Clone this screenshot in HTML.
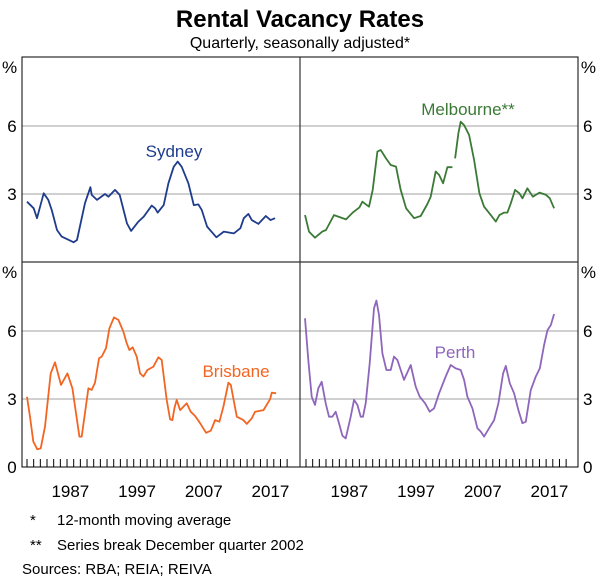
<!DOCTYPE html>
<html><head><meta charset="utf-8"><style>
body{margin:0;background:#fff}
svg{display:block;font-family:"Liberation Sans",Arial,sans-serif}
</style></head><body>
<svg id="chart" width="600" height="578" viewBox="0 0 600 578">
<text x="300" y="27" text-anchor="middle" font-size="24" font-weight="bold">Rental Vacancy Rates</text>
<text x="300" y="48" text-anchor="middle" font-size="16">Quarterly, seasonally adjusted*</text>
<g id="grid"></g>
<g id="ticks"></g>
<g id="series"></g>
<rect x="22" y="57" width="556" height="410" fill="none" stroke="#000" stroke-width="1"/>
<line x1="300" y1="57" x2="300" y2="467" stroke="#333" stroke-width="1.2"/>
<line x1="22" y1="262" x2="578" y2="262" stroke="#333" stroke-width="1.2"/>
<g id="labels" font-size="17"></g>
<text x="174" y="157" text-anchor="middle" font-size="17" fill="#1f3c8c">Sydney</text>
<text x="468" y="115" text-anchor="middle" font-size="17" fill="#3b7a36">Melbourne**</text>
<text x="236" y="377" text-anchor="middle" font-size="17" fill="#f26522">Brisbane</text>
<text x="455" y="358" text-anchor="middle" font-size="17" fill="#8e66bb">Perth</text>
<text x="30" y="525" font-size="15">*</text>
<text x="57" y="525" font-size="15">12-month moving average</text>
<text x="30" y="550" font-size="15">**</text>
<text x="57" y="550" font-size="15">Series break December quarter 2002</text>
<text x="22" y="574" font-size="15">Sources: RBA; REIA; REIVA</text>
</svg>
<script>
const yTicks=[0,3,6];
const xTickLabels=["1987","1997","2007","2017"];
const sydT=[1981,1982,1982.5,1983.5,1984.2,1984.7,1985.5,1986.2,1988,1988.5,1989.7,1990.5,1990.7,1991.5,1992.7,1993.2,1994.2,1994.9,1996,1996.6,1997.7,1998.5,1999.7,2000.2,2000.6,2001.5,2002.2,2003,2003.6,2004.2,2005.2,2006,2006.7,2007.2,2008,2009.4,2010.5,2012,2013,2013.5,2014.2,2014.7,2015.7,2016.8,2017.5,2018.2];
const sydV=[2.66,2.37,1.93,3.03,2.74,2.3,1.41,1.12,0.87,0.97,2.6,3.3,2.96,2.74,3.0,2.88,3.18,2.96,1.7,1.37,1.78,2.0,2.49,2.37,2.18,2.51,3.47,4.2,4.43,4.2,3.47,2.51,2.54,2.29,1.56,1.09,1.34,1.26,1.49,1.93,2.12,1.85,1.68,2.03,1.85,1.93];
const melT=[1980.85,1981.45,1982.35,1983.45,1984,1985.2,1987,1988,1989,1989.45,1990.45,1991,1991.7,1992.2,1993,1993.7,1994.5,1995.2,1996,1997.2,1998.2,1999.2,1999.7,2000.45,2000.95,2001.55,2002.2,2002.95,2002.96,2003.35,2003.85,2004.2,2004.7,2005.45,2006.2,2007,2007.7,2008.7,2009.45,2010,2010.7,2011.2,2011.7,2012.35,2013,2013.45,2014.2,2015,2016,2017,2017.55,2018.2];
const melV=[2.07,1.34,1.07,1.34,1.41,2.07,1.88,2.18,2.41,2.66,2.44,3.18,4.87,4.94,4.57,4.28,4.21,3.18,2.37,1.93,2.03,2.56,2.88,3.99,3.84,3.47,4.18,4.18,null,4.57,5.68,6.19,6.04,5.6,4.5,3.03,2.44,2.07,1.78,2.07,2.18,2.18,2.59,3.18,3.03,2.81,3.25,2.88,3.06,2.96,2.81,2.37];
const briT=[1981,1981.45,1981.95,1982.55,1983.05,1983.7,1984.55,1985.2,1986.1,1987.05,1987.8,1988.85,1989.2,1990.2,1990.7,1991.2,1991.8,1992.2,1992.85,1993.35,1994.05,1994.7,1995.45,1995.95,1996.35,1996.85,1997.45,1997.95,1998.45,1999.05,1999.95,2000.7,2001.2,2001.95,2002.45,2002.8,2003.1,2003.45,2003.95,2004.45,2004.95,2005.55,2006.2,2006.95,2007.85,2008.55,2009.2,2009.85,2010.45,2011.2,2011.55,2012.45,2013.45,2013.95,2014.7,2015.2,2016.45,2017.45,2017.7,2018.35];
const briV=[3.1,2.22,1.12,0.78,0.82,1.78,4.13,4.62,3.62,4.13,3.47,1.34,1.34,3.47,3.4,3.72,4.79,4.87,5.24,6.12,6.6,6.49,5.97,5.46,5.16,5.28,4.87,4.13,3.99,4.28,4.43,4.84,4.72,2.96,2.1,2.07,2.59,2.96,2.51,2.66,2.81,2.44,2.25,1.93,1.51,1.6,2.07,2.0,2.66,3.72,3.62,2.22,2.07,1.9,2.15,2.44,2.51,2.99,3.28,3.25];
const perT=[1980.85,1981.35,1981.85,1982.35,1982.85,1983.35,1983.95,1984.45,1984.95,1985.45,1985.95,1986.45,1986.95,1987.7,1988.2,1988.7,1989.2,1989.55,1989.95,1990.55,1991.2,1991.55,1991.95,1992.45,1993.05,1993.7,1994.2,1994.7,1995.7,1996.7,1997.45,1998.05,1998.85,1999.55,2000.2,2000.95,2001.95,2002.7,2003.45,2004.2,2004.7,2005.2,2005.95,2006.7,2007.2,2007.7,2008.45,2009.2,2009.85,2010.55,2010.95,2011.55,2012.2,2012.85,2013.45,2013.95,2014.7,2015.45,2016.05,2016.7,2017.2,2017.7,2018.2];
const perV=[6.56,4.72,3.1,2.74,3.47,3.76,2.81,2.22,2.22,2.44,1.93,1.38,1.26,2.22,2.96,2.74,2.22,2.22,2.81,4.57,7.0,7.34,6.71,5.01,4.28,4.28,4.87,4.72,3.84,4.5,3.54,3.1,2.81,2.44,2.59,3.25,3.99,4.5,4.35,4.28,3.84,3.1,2.59,1.71,1.56,1.34,1.71,2.07,2.81,4.13,4.46,3.69,3.25,2.51,1.93,2.0,3.4,3.99,4.35,5.38,6.04,6.26,6.75];

const NS='http://www.w3.org/2000/svg';
const panels=[{x0:27,yb:262},{x0:306,yb:262},{x0:27,yb:467},{x0:306,yb:467}];
const PXY=6.67, PXV=22.67;
function xs(p,t){return panels[p].x0+(t-1981)*PXY;}
function ys(p,v){return panels[p].yb-v*PXV;}
function mk(tag,attrs,parent){const e=document.createElementNS(NS,tag);for(const k in attrs)e.setAttribute(k,attrs[k]);parent.appendChild(e);return e;}
const grid=document.getElementById('grid');
[[22,300],[300,578]].forEach(([a,b],ci)=>{[0,2].forEach(r=>{yTicks.slice(1).forEach(v=>{
 const y=ys(r+ci,v);
 const l=mk('line',{x1:a,x2:b,y1:y,y2:y,stroke:'#b4b4b4','stroke-width':1.2},grid);
 
 
});});});
const ticks=document.getElementById('ticks');
[2,3].forEach(p=>{for(let yr=1981;yr<=2020;yr++){
 const x=xs(p,yr);
 const l=mk('line',{x1:x,x2:x,y1:467,y2:459,stroke:'#000','stroke-width':1},ticks);
 
 
}
xTickLabels.forEach(s=>{
 const t=mk('text',{x:xs(p,+s+0.5),y:497,'text-anchor':'middle','font-size':17},ticks);
 t.textContent=s;
 
 
});});
const labels=document.getElementById('labels');
[[0,'start',3],[1,'end',597]].forEach(([ci,anc,x])=>{[262,467].forEach((yb,r)=>{
 const pc=mk('text',{x:ci?596:2,y:yb-189,'text-anchor':anc},labels);pc.textContent='%';
 
 
 yTicks.forEach(v=>{
  if(r===0&&v===0)return;
  const t=mk('text',{x:ci?592:13,y:yb-v*PXV+6,'text-anchor':ci?'end':'middle'},labels);
  if(!ci){t.setAttribute('x',12);}
  else{t.setAttribute('text-anchor','start');t.setAttribute('x',583);}
  t.textContent=v;
  
  
 });
});});
const series=document.getElementById('series');
function draw(p,T,V,col,name){
 let d='',pen=false;
 for(let i=0;i<T.length;i++){
  if(V[i]===null){pen=false;continue;}
  d+=(pen?'L':'M')+xs(p,T[i]).toFixed(1)+' '+ys(p,V[i]).toFixed(1);pen=true;
 }
 const e=mk('path',{d:d,fill:'none',stroke:col,'stroke-width':1.8,'stroke-linejoin':'round'},series);
 
 
}
draw(0,sydT,sydV,'#1f3c8c','sydney-line');
draw(1,melT,melV,'#3b7a36','melbourne-line');
draw(2,briT,briV,'#f26522','brisbane-line');
draw(3,perT,perV,'#8e66bb','perth-line');
</script>
</body></html>
